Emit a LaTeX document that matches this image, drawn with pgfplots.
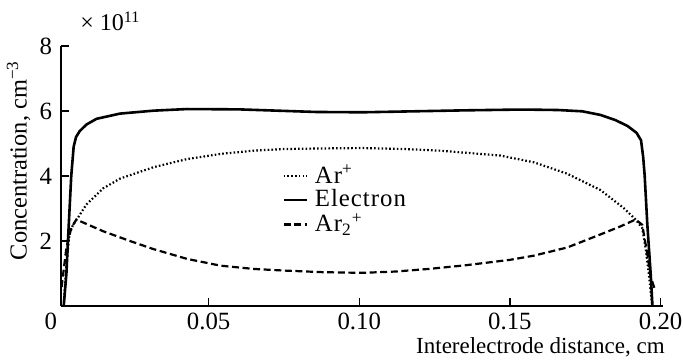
\documentclass[border=0pt]{standalone}
\usepackage{fontspec}
\setmainfont{Liberation Serif}
\usepackage{pgfplots}
\pgfplotsset{compat=1.18}
\begin{document}
\fontsize{11.5}{13.5}\selectfont
\begin{tikzpicture}
\begin{axis}[
  name=ax,
  scale only axis,
  width=301pt, height=130pt,
  xmin=0.001, xmax=0.2008,
  ymin=0, ymax=8,
  axis x line=bottom, axis y line=left,
  axis line style={-, line width=0.8pt},
  tick align=inside,
  major tick length=4pt,
  tick style={line width=0.6pt, black},
  xtick={0.001,0.05,0.10,0.15,0.20},
  xticklabels={\makebox[0pt][r]{0\hspace{2pt}},0.05,0.10,0.15,0.20},
  ytick={2,4,6,8},
  /pgf/number format/assume math mode=true,
  ticklabel style={font=\fontsize{12.4}{14}\selectfont},
  xticklabel style={yshift=0.5pt},
  yticklabel style={xshift=-0.5pt},
  xlabel={Interelectrode distance, cm},
  xlabel style={at={(axis description cs:1,0)}, anchor=north east, inner sep=0pt, yshift=-15.5pt, xshift=1pt, font=\fontsize{11.5}{13.5}\selectfont},
  ylabel={Concentration, cm\textsuperscript{−3}},
  ylabel style={at={(axis description cs:-0.05,0.56)}, anchor=south, inner sep=0pt, font=\fontsize{12.2}{14}\selectfont},
  legend style={draw=none, fill=none, at={(rel axis cs:0.367,0.56)}, anchor=north west, font=\fontsize{12.4}{12}\selectfont\addfontfeature{LetterSpace=4}, row sep=-2.5pt, column sep=1.5pt, inner sep=0pt},
  legend cell align=left,
  legend image code/.code={\draw[#1] (0pt,0pt) -- (11.5pt,0pt);},
]
\addplot[black, line width=1.1pt, dash pattern=on 0.8pt off 1.1pt] coordinates {
(0.0019,0) (0.0028,1.3) (0.0038,2.2) (0.0050,2.5) (0.0065,2.7) (0.0094,3.12) (0.015,3.62) (0.0206,3.92) (0.0317,4.27) (0.0428,4.52) (0.054,4.68) (0.065,4.78) (0.075,4.83) (0.09,4.85) (0.101,4.86) (0.115,4.83) (0.1267,4.78) (0.1467,4.63) (0.158,4.42) (0.169,4.07) (0.18,3.57) (0.1878,3.01) (0.1917,2.66) (0.1939,2.4) (0.195,1.8) (0.1961,0.99) (0.1972,0)
};
\addlegendentry{Ar\textsuperscript{+}}
\addplot[black, line width=1.3pt] coordinates {
(0.0019,0) (0.0028,1.0) (0.0033,2.0) (0.0044,4.0) (0.0052,4.9) (0.0060,5.2) (0.0072,5.38) (0.0094,5.58) (0.0128,5.76) (0.0206,5.92) (0.0317,6.01) (0.0428,6.06) (0.06,6.05) (0.0856,5.97) (0.101,5.96) (0.118,5.99) (0.135,6.02) (0.15,6.04) (0.158,6.04) (0.166,6.03) (0.174,5.99) (0.180,5.88) (0.185,5.72) (0.189,5.54) (0.192,5.33) (0.1935,5.1) (0.1942,4.6) (0.1947,4.03) (0.1956,2.5) (0.1967,1.0) (0.1973,0)
};
\addlegendentry{Electron}
\addplot[black, line width=1.1pt, dash pattern=on 3.5pt off 1.8pt] coordinates {
(0.0012,0.58) (0.0028,1.8) (0.0044,2.4) (0.0061,2.66) (0.015,2.3) (0.0239,2.0) (0.0317,1.75) (0.0428,1.45) (0.054,1.24) (0.065,1.14) (0.075,1.09) (0.088,1.04) (0.101,1.02) (0.112,1.06) (0.123,1.14) (0.135,1.25) (0.15,1.42) (0.158,1.55) (0.169,1.8) (0.18,2.2) (0.1867,2.45) (0.1917,2.66) (0.1939,2.5) (0.1956,1.6) (0.1967,0.89) (0.198,0.54)
};
\addlegendentry{Ar\textsubscript{2}\textsuperscript{+}}
\end{axis}
\node[anchor=base west, inner sep=0pt, font=\fontsize{12}{14}\selectfont] at ([xshift=9.5pt, yshift=7.5pt]ax.north west) {× 10\textsuperscript{11}};
\pgfresetboundingbox
\path[use as bounding box] ([shift={(-30.5pt,-27pt)}]ax.south west) rectangle ([shift={(10pt,23pt)}]ax.north east);
\end{tikzpicture}
\end{document}
